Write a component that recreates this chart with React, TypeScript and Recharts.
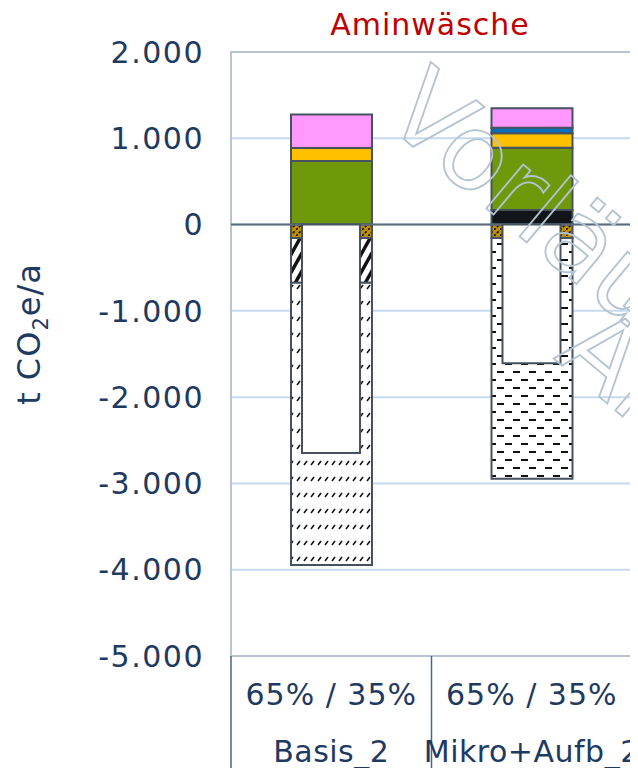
import { BarChart, Bar, XAxis, YAxis, CartesianGrid, ReferenceLine, ReferenceArea } from "recharts";

// categories and bar segments (t CO2e/a)
const categories = ["Basis_2", "Mikro+Aufb_2"];
const shares = ["65% / 35%", "65% / 35%"];
const blackPart = [0, 169];
const greenPart = [737, 722];
const yellowPart = [150, 167];
const bluePart = [0, 65];
const pinkPart = [390, 225];
const goldHatch = [-155, -155];
const wideHatch = [-518, 0];
const fineHatch = [-3272, 0];
const dashPart = [0, -2792];
const netBox = [-2647, -1607];
const yTicks = [-5000, -4000, -3000, -2000, -1000, 0, 1000, 2000];

const CHART_W = 630;
const CHART_H = 760;
const Y_AXIS_W = 223;
const X_AXIS_H = 112;
const MARGIN = { top: 44, right: 6, left: 0, bottom: 0 };
const PLOT_BOTTOM = CHART_H - X_AXIS_H;
const BAND = (CHART_W - Y_AXIS_W - MARGIN.right) / categories.length;

const NAVY = "#1f3a60";
const EDGE = "#46525f";
const FONT = "'DejaVu Sans', Verdana, sans-serif";

const data = categories.map((c, i) => ({
  cat: c,
  black: blackPart[i],
  green: greenPart[i],
  yellow: yellowPart[i],
  blue: bluePart[i],
  pink: pinkPart[i],
  gold: goldHatch[i],
  wide: wideHatch[i],
  fine: fineHatch[i],
  dash: dashPart[i],
  net: netBox[i],
}));

const fmtDe = (v: number) => String(v).replace(/\B(?=(\d{3})+(?!\d))/g, ".");

function CategoryTick(props: any) {
  const { x, payload, index } = props;
  const half = BAND / 2;
  return (
    <g>
      <line x1={x - half} x2={x - half} y1={PLOT_BOTTOM} y2={CHART_H} stroke="#4d6584" strokeWidth={1.5} />
      {index === categories.length - 1 && (
        <line x1={x + half} x2={x + half} y1={PLOT_BOTTOM} y2={CHART_H} stroke="#4d6584" strokeWidth={1.5} />
      )}
      <text x={x} y={PLOT_BOTTOM + 49} textAnchor="middle" fontSize={30} letterSpacing={1} fill={NAVY} fontFamily={FONT}>
        {shares[index]}
      </text>
      <text x={x} y={PLOT_BOTTOM + 106} textAnchor="middle" fontSize={30} letterSpacing={0.5} fill={NAVY} fontFamily={FONT}>
        {payload.value}
      </text>
    </g>
  );
}

function Patterns() {
  return (
    <svg width={0} height={0} style={{ position: "absolute" }}>
      <defs>
        <pattern id="pGold" width={6} height={6} patternUnits="userSpaceOnUse">
          <rect width={6} height={6} fill="#bf9000" />
          <path d="M0,6 L6,0" stroke="#111" strokeWidth={1.6} strokeDasharray="2.5 1.5" />
        </pattern>
        <pattern id="pWide" width={10} height={18} patternUnits="userSpaceOnUse">
          <rect width={10} height={18} fill="#fff" />
          <path d="M-5,27 L15,-9 M-15,27 L5,-9 M5,27 L25,-9" stroke="#111" strokeWidth={3.5} />
        </pattern>
        <pattern id="pFine" width={7} height={16} patternUnits="userSpaceOnUse">
          <rect width={7} height={16} fill="#fff" />
          <path d="M2,9 L5,5" stroke="#111" strokeWidth={1.6} />
        </pattern>
        <pattern id="pDash" width={16} height={16} patternUnits="userSpaceOnUse">
          <rect width={16} height={16} fill="#fff" />
          <path d="M1,4 H8 M9,12 H16" stroke="#111" strokeWidth={2} />
        </pattern>
      </defs>
    </svg>
  );
}

export default function App() {
  return (
    <div style={{ position: "relative", width: CHART_W, height: CHART_H, fontFamily: FONT }}>
      <Patterns />
      <div style={{ position: "absolute", left: 0, top: 0 }}>
        <BarChart width={CHART_W} height={CHART_H} data={data} margin={MARGIN} barSize={81} stackOffset="sign">
          <CartesianGrid vertical={false} stroke="#c6d9ef" strokeWidth={2} />
          <ReferenceArea y1={-5000} y2={2000} fill="none" stroke="#b8c4d0" strokeWidth={2} ifOverflow="visible" />
          <XAxis dataKey="cat" height={X_AXIS_H} axisLine={false} tickLine={false} tick={<CategoryTick />} interval={0} />
          <YAxis
            width={Y_AXIS_W}
            domain={[-5000, 2000]}
            ticks={yTicks}
            tickFormatter={fmtDe}
            axisLine={false}
            tickLine={false}
            tickSize={0}
            tickMargin={27}
            tick={{ fontSize: 30, fill: NAVY, fontFamily: FONT, letterSpacing: 1.5 }}
            interval={0}
          />
          <Bar dataKey="black" stackId="s" fill="#111419" stroke={EDGE} strokeWidth={2} isAnimationActive={false} />
          <Bar dataKey="green" stackId="s" fill="#6f990b" stroke={EDGE} strokeWidth={2} isAnimationActive={false} />
          <Bar dataKey="yellow" stackId="s" fill="#ffc000" stroke={EDGE} strokeWidth={2} isAnimationActive={false} />
          <Bar dataKey="blue" stackId="s" fill="#0070c0" stroke={EDGE} strokeWidth={2} isAnimationActive={false} />
          <Bar dataKey="pink" stackId="s" fill="#ff99ff" stroke={EDGE} strokeWidth={2} isAnimationActive={false} />
          <Bar dataKey="gold" stackId="s" fill="url(#pGold)" stroke={EDGE} strokeWidth={2} isAnimationActive={false} />
          <Bar dataKey="wide" stackId="s" fill="url(#pWide)" stroke={EDGE} strokeWidth={2} isAnimationActive={false} />
          <Bar dataKey="fine" stackId="s" fill="url(#pFine)" stroke={EDGE} strokeWidth={2} isAnimationActive={false} />
          <Bar dataKey="dash" stackId="s" fill="url(#pDash)" stroke={EDGE} strokeWidth={2} isAnimationActive={false} />
          <ReferenceLine y={0} stroke="#5b6b7b" strokeWidth={2} />
        </BarChart>
      </div>
      <div style={{ position: "absolute", left: 0, top: 0 }}>
        <BarChart width={CHART_W} height={CHART_H} data={data} margin={MARGIN} barSize={58}>
          <XAxis dataKey="cat" height={X_AXIS_H} axisLine={false} tickLine={false} tick={false} />
          <YAxis width={Y_AXIS_W} domain={[-5000, 2000]} ticks={yTicks} axisLine={false} tickLine={false} tick={false} />
          <Bar dataKey="net" fill="#fff" stroke={EDGE} strokeWidth={2} isAnimationActive={false} />
        </BarChart>
      </div>
      <svg
        width={CHART_W}
        height={CHART_H}
        style={{ position: "absolute", left: 0, top: 0, pointerEvents: "none", overflow: "hidden" }}
      >
        <text x={422} y={27} textAnchor="middle" fontSize={30} letterSpacing={1} fill="#c00000" fontFamily={FONT}>
          Aminwäsche
        </text>
        <text x={32} y={326} textAnchor="middle" fontSize={32} letterSpacing={1} fill={NAVY} fontFamily={FONT} transform="rotate(-90 32 326)">
          t CO<tspan fontSize={21} dy={8}>2</tspan>
          <tspan dy={-8}>e/a</tspan>
        </text>
        <g fill="none" stroke="#b4c3d2" strokeWidth={1.8} fontSize={105} fontFamily={FONT}>
          <text x={373} y={112} transform="rotate(40 373 112)">Vorläufig</text>
          <text x={545} y={350} transform="rotate(40 545 350)">Änderungen</text>
        </g>
      </svg>
    </div>
  );
}
